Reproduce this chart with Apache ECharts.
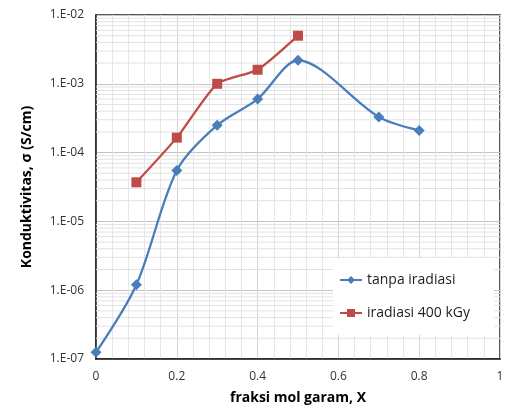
<!DOCTYPE html>
<html>
<head>
<meta charset="utf-8">
<script src="https://cdn.jsdelivr.net/npm/echarts@6/dist/echarts.min.js"></script>
<style>
  html, body { margin: 0; padding: 0; background: #fff; }
  #chart { width: 507px; height: 419px; }
</style>
</head>
<body>
<div id="chart"></div>
<script>
var xTanpa = [0, 0.1, 0.2, 0.3, 0.4, 0.5, 0.7, 0.8];
var yTanpa = [1.25e-7, 1.2e-6, 5.5e-5, 2.5e-4, 6.0e-4, 2.2e-3, 3.3e-4, 2.1e-4];
var xIrad = [0.1, 0.2, 0.3, 0.4, 0.5];
var yIrad = [3.7e-5, 1.65e-4, 1.0e-3, 1.6e-3, 5.0e-3];
var xTicks = [0, 0.2, 0.4, 0.6, 0.8, 1];

var myChart = echarts.init(document.getElementById('chart'));
var font = "'Open Sans', 'Liberation Sans', sans-serif";

function pairs(xs, ys) {
    return xs.map(function (x, i) { return [x, ys[i]]; });
}

// log minor gridlines 2..9 x 10^n, drawn as thin silent lines across the plot
var gridSeries = [];
for (var e = -7; e < -2; e++) {
    for (var m = 2; m <= 9; m++) {
        var v = m * Math.pow(10, e);
        gridSeries.push({
            type: 'line',
            data: [[0, v], [1, v]],
            silent: true,
            symbol: 'none',
            lineStyle: { color: '#e2e2e2', width: 1 },
            z: 0
        });
    }
}

option = {
    animation: false,
    grid: { left: 96, right: 7, top: 15, bottom: 60, show: true, borderColor: '#222', borderWidth: 1.5 },
    xAxis: {
        type: 'value',
        min: 0, max: 1, interval: 0.2,
        name: 'fraksi mol garam, X',
        nameLocation: 'middle',
        nameGap: 32,
        nameTextStyle: { fontFamily: font, fontWeight: 'bold', fontSize: 14, color: '#000' },
        axisLine: { show: true, onZero: false, lineStyle: { color: '#222', width: 1.5 } },
        axisTick: { show: false },
        axisLabel: {
            fontFamily: font, fontSize: 12, color: '#333', margin: 12,
            formatter: function (v) { return xTicks.indexOf(+v.toFixed(1)) >= 0 ? String(+v.toFixed(1)) : ''; }
        },
        splitLine: { show: true, lineStyle: { color: '#d4d4d4', width: 1 } },
        minorTick: { show: false, splitNumber: 5 },
        minorSplitLine: { show: true, lineStyle: { color: '#e6e6e6', width: 1 } }
    },
    yAxis: {
        type: 'log',
        logBase: 10,
        min: 1e-7, max: 1e-2,
        name: 'Konduktivitas, σ (S/cm)',
        nameLocation: 'middle',
        nameGap: 62,
        nameTextStyle: { fontFamily: font, fontWeight: 'bold', fontSize: 14, color: '#000' },
        axisLine: { show: true, lineStyle: { color: '#222', width: 1.5 } },
        axisTick: { show: false },
        axisLabel: {
            fontFamily: font, fontSize: 12, color: '#333', margin: 12,
            formatter: function (v) {
                var ex = Math.round(Math.log10(v));
                var s = Math.abs(ex) < 10 ? '0' + Math.abs(ex) : String(Math.abs(ex));
                return '1.E' + (ex < 0 ? '-' : '+') + s;
            }
        },
        splitLine: { show: true, lineStyle: { color: '#c4c4c4', width: 1 } }
    },
    legend: {
        orient: 'vertical',
        left: 333, top: 258,
        backgroundColor: '#fff',
        padding: [15, 24, 15, 6],
        itemGap: 19,
        itemWidth: 22, itemHeight: 10,
        textStyle: { fontFamily: font, fontSize: 14, color: '#222' },
        data: ['tanpa iradiasi', 'iradiasi 400 kGy']
    },
    series: gridSeries.concat([
        {
            name: 'tanpa iradiasi',
            type: 'line',
            data: pairs(xTanpa, yTanpa),
            smooth: 0.3,
            symbol: 'diamond',
            symbolSize: 11,
            color: '#4a7ebb',
            lineStyle: { width: 2.3, color: '#4a7ebb' },
            itemStyle: { color: '#4a7ebb' },
            z: 4
        },
        {
            name: 'iradiasi 400 kGy',
            type: 'line',
            data: pairs(xIrad, yIrad),
            smooth: 0.2,
            symbol: 'rect',
            symbolSize: 10,
            color: '#be4b48',
            lineStyle: { width: 2.3, color: '#be4b48' },
            itemStyle: { color: '#be4b48' },
            z: 3
        }
    ])
};

myChart.setOption(option);
</script>
</body>
</html>
